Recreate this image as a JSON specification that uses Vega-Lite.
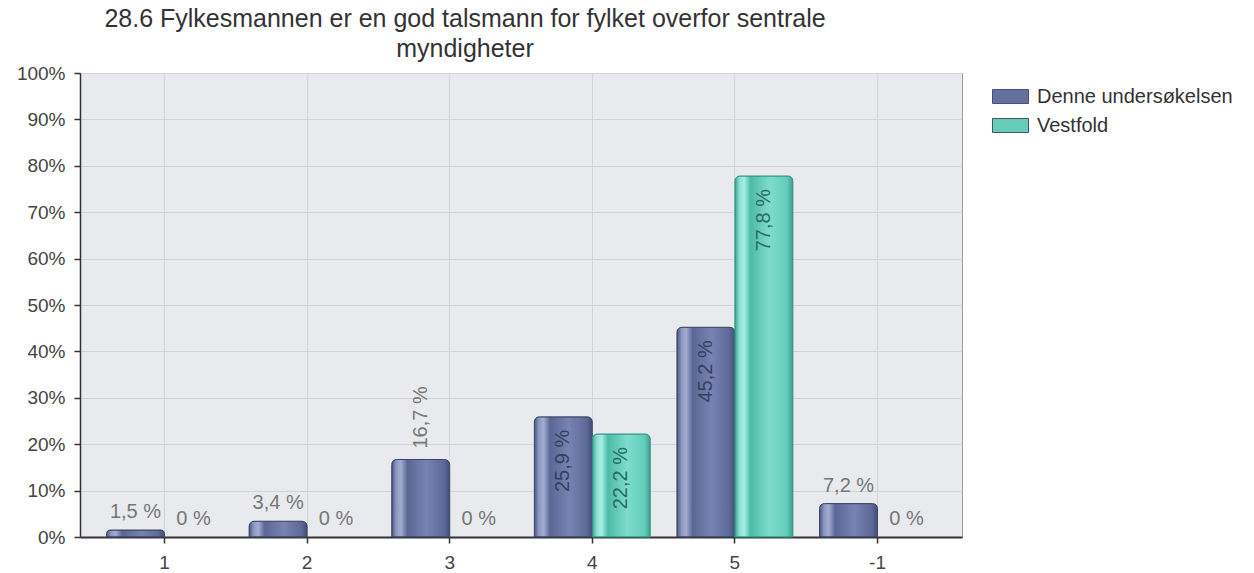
{
  "$schema": "https://vega.github.io/schema/vega-lite/v6.json",
  "width": 882,
  "height": 464,
  "autosize": {"type": "none"},
  "padding": {"left": 80, "top": 73, "right": 292, "bottom": 36},
  "background": "white",
  "title": {
    "text": ["28.6 Fylkesmannen er en god talsmann for fylket overfor sentrale", "myndigheter"],
    "fontSize": 25,
    "font": "Liberation Sans",
    "fontWeight": "normal",
    "color": "#333333",
    "lineHeight": 30,
    "anchor": "middle",
    "frame": "group",
    "dx": -56,
    "offset": 2
  },
  "config": {
    "font": "Liberation Sans",
    "view": {"fill": "#e8eaed", "stroke": "#9a9a9a", "strokeWidth": 1}
  },
  "data": {
    "values": [
      {"Category": "1", "Series": "Denne undersøkelsen", "pct": 1.5, "label": "1,5 %"},
      {"Category": "1", "Series": "Vestfold", "pct": 0, "label": "0 %"},
      {"Category": "2", "Series": "Denne undersøkelsen", "pct": 3.4, "label": "3,4 %"},
      {"Category": "2", "Series": "Vestfold", "pct": 0, "label": "0 %"},
      {"Category": "3", "Series": "Denne undersøkelsen", "pct": 16.7, "label": "16,7 %"},
      {"Category": "3", "Series": "Vestfold", "pct": 0, "label": "0 %"},
      {"Category": "4", "Series": "Denne undersøkelsen", "pct": 25.9, "label": "25,9 %"},
      {"Category": "4", "Series": "Vestfold", "pct": 22.2, "label": "22,2 %"},
      {"Category": "5", "Series": "Denne undersøkelsen", "pct": 45.2, "label": "45,2 %"},
      {"Category": "5", "Series": "Vestfold", "pct": 77.8, "label": "77,8 %"},
      {"Category": "-1", "Series": "Denne undersøkelsen", "pct": 7.2, "label": "7,2 %"},
      {"Category": "-1", "Series": "Vestfold", "pct": 0, "label": "0 %"}
    ]
  },
  "encoding": {
    "x": {
      "field": "Category",
      "type": "nominal",
      "sort": ["1", "2", "3", "4", "5", "-1"],
      "scale": {"paddingInner": 0.187, "paddingOuter": 0.186},
      "axis": {
        "title": null,
        "labelAngle": 0,
        "grid": true,
        "gridColor": "#d0d3d7",
        "bandPosition": 0.5,
        "tickColor": "#333333",
        "tickSize": 6,
        "tickWidth": 1.5,
        "domainColor": "#333333",
        "domainWidth": 2,
        "labelFontSize": 19,
        "labelColor": "#444444",
        "labelPadding": 10
      }
    },
    "xOffset": {
      "field": "Series",
      "type": "nominal",
      "scale": {"domain": ["Denne undersøkelsen", "Vestfold"], "paddingInner": 0, "paddingOuter": 0}
    },
    "y": {
      "field": "pct",
      "type": "quantitative",
      "scale": {"domain": [0, 100]},
      "axis": {
        "title": null,
        "values": [0, 10, 20, 30, 40, 50, 60, 70, 80, 90, 100],
        "labelExpr": "datum.value + '%'",
        "grid": true,
        "gridColor": "#d0d3d7",
        "tickColor": "#333333",
        "tickSize": 6,
        "tickWidth": 1.5,
        "domainColor": "#333333",
        "domainWidth": 1.5,
        "labelFontSize": 19,
        "labelColor": "#444444",
        "labelPadding": 9
      }
    }
  },
  "layer": [
    {
      "transform": [{"filter": "datum.pct > 0"}],
      "mark": {"type": "bar", "cornerRadiusTopLeft": 5, "cornerRadiusTopRight": 5},
      "encoding": {
        "color": {
          "field": "Series",
          "type": "nominal",
          "scale": {"domain": ["Denne undersøkelsen", "Vestfold"], "range": ["#6471a0", "#66cdb9"]},
          "legend": {
            "title": null,
            "orient": "none",
            "legendX": 912,
            "legendY": 5,
            "symbolType": "M-1,-0.39H1V0.39H-1Z",
            "symbolSize": 1296,
            "symbolStrokeColor": "#4a5070",
            "symbolStrokeWidth": 1,
            "symbolOpacity": 1,
            "labelFontSize": 20,
            "labelColor": "#333333",
            "labelOffset": 8,
            "labelLimit": 400,
            "rowPadding": 0,
            "padding": 0
          }
        }
      }
    },
    {
      "transform": [{"filter": "datum.pct > 0 && datum.Series == 'Denne undersøkelsen'"}],
      "mark": {
        "type": "bar",
        "cornerRadiusTopLeft": 5,
        "cornerRadiusTopRight": 5,
        "stroke": "#3b4569",
        "strokeWidth": 1,
        "fill": {
          "gradient": "linear",
          "x1": 0, "y1": 0, "x2": 1, "y2": 0,
          "stops": [
            {"offset": 0, "color": "#4b5783"},
            {"offset": 0.08, "color": "#8e99c0"},
            {"offset": 0.16, "color": "#a3acd0"},
            {"offset": 0.27, "color": "#5a6794"},
            {"offset": 0.6, "color": "#7784b1"},
            {"offset": 0.9, "color": "#5d6a98"},
            {"offset": 1, "color": "#434e78"}
          ]
        }
      }
    },
    {
      "transform": [{"filter": "datum.pct > 0 && datum.Series == 'Vestfold'"}],
      "mark": {
        "type": "bar",
        "cornerRadiusTopLeft": 5,
        "cornerRadiusTopRight": 5,
        "stroke": "#2f9a86",
        "strokeWidth": 1,
        "fill": {
          "gradient": "linear",
          "x1": 0, "y1": 0, "x2": 1, "y2": 0,
          "stops": [
            {"offset": 0, "color": "#3aa38f"},
            {"offset": 0.08, "color": "#8ee0d2"},
            {"offset": 0.16, "color": "#a8eee2"},
            {"offset": 0.27, "color": "#4cbba7"},
            {"offset": 0.6, "color": "#7fdccb"},
            {"offset": 0.9, "color": "#63cdb9"},
            {"offset": 1, "color": "#3b9f8c"}
          ]
        }
      }
    },
    {
      "transform": [{"filter": "datum.pct < 10"}],
      "mark": {"type": "text", "align": "center", "baseline": "alphabetic", "dy": -12, "fontSize": 20, "color": "#777777"},
      "encoding": {"text": {"field": "label"}}
    },
    {
      "transform": [{"filter": "datum.pct >= 10 && datum.pct < 20"}],
      "mark": {"type": "text", "angle": 270, "align": "left", "baseline": "middle", "dx": 11, "fontSize": 20, "color": "#777777"},
      "encoding": {"text": {"field": "label"}}
    },
    {
      "transform": [{"filter": "datum.pct >= 20"}],
      "mark": {"type": "text", "angle": 270, "align": "right", "baseline": "middle", "dx": -13, "fontSize": 20},
      "encoding": {
        "text": {"field": "label"},
        "color": {"condition": {"test": "datum.Series == 'Vestfold'", "value": "#2a6d62"}, "value": "#363f62"}
      }
    }
  ]
}
